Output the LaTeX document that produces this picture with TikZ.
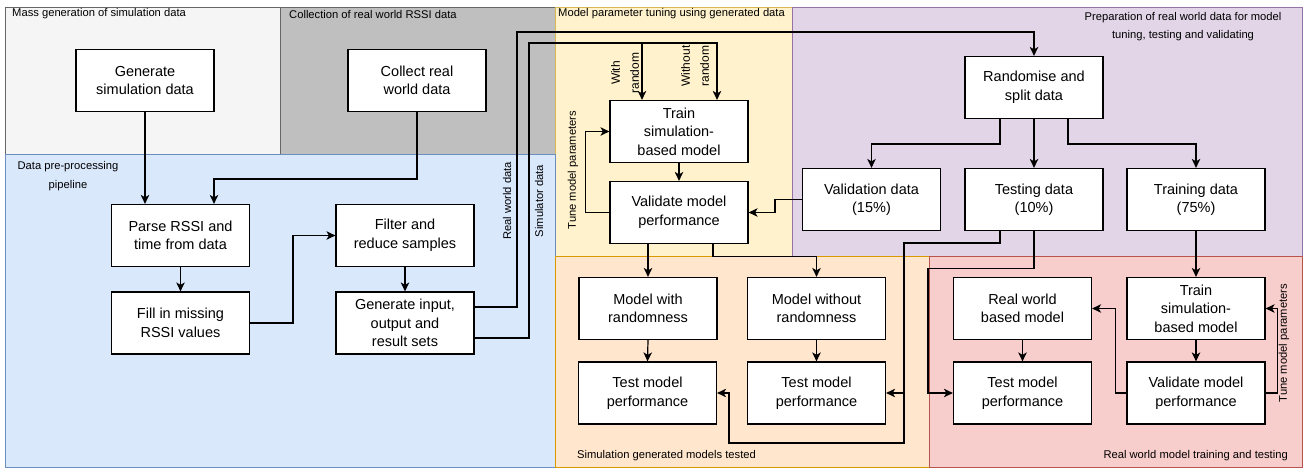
\documentclass[tikz,border=0pt]{standalone}
\usepackage{fontspec}
\setmainfont{Liberation Sans}
\usetikzlibrary{arrows.meta,calc}
\definecolor{glf}{HTML}{F5F5F5}
\definecolor{gls}{HTML}{666666}
\definecolor{gdf}{HTML}{BFBFBF}
\definecolor{yef}{HTML}{FFF2CC}
\definecolor{yes}{HTML}{D6B656}
\definecolor{puf}{HTML}{E1D5E7}
\definecolor{pus}{HTML}{9673A6}
\definecolor{blf}{HTML}{DAE8FC}
\definecolor{bls}{HTML}{6C8EBF}
\definecolor{orf}{HTML}{FFE6CC}
\definecolor{ors}{HTML}{D79B00}
\definecolor{ref}{HTML}{F8CECC}
\definecolor{res}{HTML}{B85450}
\begin{document}
\begin{tikzpicture}[x=1pt,y=-1pt,
 box/.style={draw=black, line width=1.2pt, fill=white, minimum width=138pt, minimum height=62pt, align=center, inner sep=1pt, font=\fontsize{14.5}{18.5}\selectfont},
 lbl/.style={inner sep=0pt, font=\fontsize{11.2}{18.5}\selectfont},
 rlbl/.style={lbl, rotate=90},
 con/.style={line width=1.2pt, draw=black},
 arr/.style={con, -{Stealth[length=9pt,width=8.5pt,inset=2.5pt]}},
 reg/.style={line width=0.9pt}]
\useasboundingbox (0,0) rectangle (1304,468);
\fill[white] (0,0) rectangle (1304,468);
% regions
\filldraw[reg, fill=glf, draw=gls] (5,7) rectangle (280,154);
\filldraw[reg, fill=gdf, draw=gls] (280,7) rectangle (555,154);
\filldraw[reg, fill=yef, draw=yes] (555,7) rectangle (792,256);
\filldraw[reg, fill=puf, draw=pus] (792,7) rectangle (1302,256);
\filldraw[reg, fill=blf, draw=bls] (5,154) rectangle (555,467);
\filldraw[reg, fill=orf, draw=ors] (555,256) rectangle (929,467);
\filldraw[reg, fill=ref, draw=res] (929,256) rectangle (1302,467);
% region labels
\node[lbl, anchor=west] (lmass) at (12,14) {Mass generation of simulation data};
\node[lbl, anchor=west] (lcoll) at (289,14) {Collection of real world RSSI data};
\node[lbl, anchor=west] (ltune) at (558,14) {Model parameter tuning using generated data};
\node[lbl, align=center] (lprep) at (1183,26.5) {Preparation of real world data for model\\tuning, testing and validating};
\node[lbl, align=center] (lpre) at (68,176) {Data pre-processing\\pipeline};
\node[lbl, anchor=west] (lsim) at (577,456) {Simulation generated models tested};
\node[lbl, anchor=east] (lreal) at (1288,456) {Real world model training and testing};
% rotated labels
\node[rlbl] (lrw) at (507,201) {Real world data};
\node[rlbl] (lsd) at (539,201) {Simulator data};
\node[rlbl] (ltune1) at (573,170) {Tune model parameters};
\node[rlbl] (ltune2) at (1284,343) {Tune model parameters};
\node[rlbl, align=center, font=\fontsize{12}{19}\selectfont] (lwith) at (625,73) {With\\random};
\node[rlbl, align=center, font=\fontsize{12}{19}\selectfont] (lwo) at (695,66) {Without\\random};
% boxes
\node[box] (gen) at (145,80.5) {Generate\\simulation data};
\node[box] (collect) at (417,80.5) {Collect real\\world data};
\node[box] (parse) at (180.5,235.5) {Parse RSSI and\\time from data};
\node[box] (fill) at (180.5,323) {Fill in missing\\RSSI values};
\node[box] (filter) at (405,235.5) {Filter and\\reduce samples};
\node[box] (geninp) at (405,323) {Generate input,\\output and\\result sets};
\node[box] (train) at (679,131.5) {Train\\simulation-\\based model};
\node[box] (validate) at (679,212.5) {Validate model\\performance};
\node[box] (rand) at (1034,87.5) {Randomise and\\split data};
\node[box] (vdata) at (871.5,199.5) {Validation data\\(15\%)};
\node[box] (testing) at (1034,199.5) {Testing data\\(10\%)};
\node[box] (training) at (1196,199.5) {Training data\\(75\%)};
\node[box] (mwith) at (648,308.5) {Model with\\randomness};
\node[box] (mwo) at (816.5,308.5) {Model without\\randomness};
\node[box] (test1) at (647.5,393) {Test model\\performance};
\node[box] (test2) at (816.5,393) {Test model\\performance};
\node[box] (rwm) at (1022.5,308.5) {Real world\\based model};
\node[box] (test3) at (1022.5,393) {Test model\\performance};
\node[box] (train2) at (1196,308.5) {Train\\simulation-\\based model};
\node[box] (val2) at (1196,393) {Validate model\\performance};
% helper coordinates
\coordinate (c1) at (214,179);
\coordinate (c2) at (293,280);
\coordinate (rw1) at (517,32);
\coordinate (sd1) at (529,43);
\coordinate (sdj) at (642,43);
\coordinate (ta) at (904,243);
\coordinate (tb) at (904,443);
\coordinate (tc) at (729,443);
\coordinate (td) at (928,300);
% connectors
\draw[arr] (gen.south) -- (gen.south |- parse.north);
\draw[arr] (collect.south) |- (c1) -- (c1 |- parse.north);
\draw[arr] (parse.south) -- (fill.north);
\draw[arr] (fill.east) -| (c2) |- (filter.west);
\draw[arr] (filter.south) -- (geninp.north);
\draw[arr] ([yshift=16pt]geninp.east) -| (rw1) -| (rand.north);
\draw[arr] ([yshift=-15pt]geninp.east) -| (sd1) -| ([xshift=38pt]train.north);
\draw[arr] (sdj) -- (sdj |- train.north);
\draw[arr] (train.south) -- (validate.north);
\draw[arr] (validate.west) -- ++(-24,0) |- (train.west);
\draw[arr] (vdata.west) -- ++(-27,0) |- (validate.east);
\draw[arr] (mwith.north |- validate.south) -- (mwith.north);
\draw[arr] ([xshift=34pt]validate.south) -- ++(0,12) -| (mwo.north);
\draw[arr] (mwith.south) -- (test1.north);
\draw[arr] (mwo.south) -- (test2.north);
\draw[arr] ([xshift=-34pt]testing.south) |- (ta) -- (tb) -- (tc) |- (test1.east);
\draw[arr] (ta |- test2.east) -- (test2.east);
\draw[arr] (testing.south) -- ++(0,37) -| (td) |- (test3.west);
\draw[arr] ([xshift=-34pt]rand.south) -- ++(0,25) -| (vdata.north);
\draw[arr] (rand.south) -- (testing.north);
\draw[arr] ([xshift=34pt]rand.south) -- ++(0,25) -| (training.north);
\draw[arr] (training.south) -- (train2.north);
\draw[arr] (train2.south) -- (val2.north);
\draw[arr] (val2.west) -- ++(-11,0) |- (rwm.east);
\draw[arr] (val2.east) -- ++(12,0) |- (train2.east);
\draw[arr] (rwm.south) -- (test3.north);
\end{tikzpicture}
\end{document}
